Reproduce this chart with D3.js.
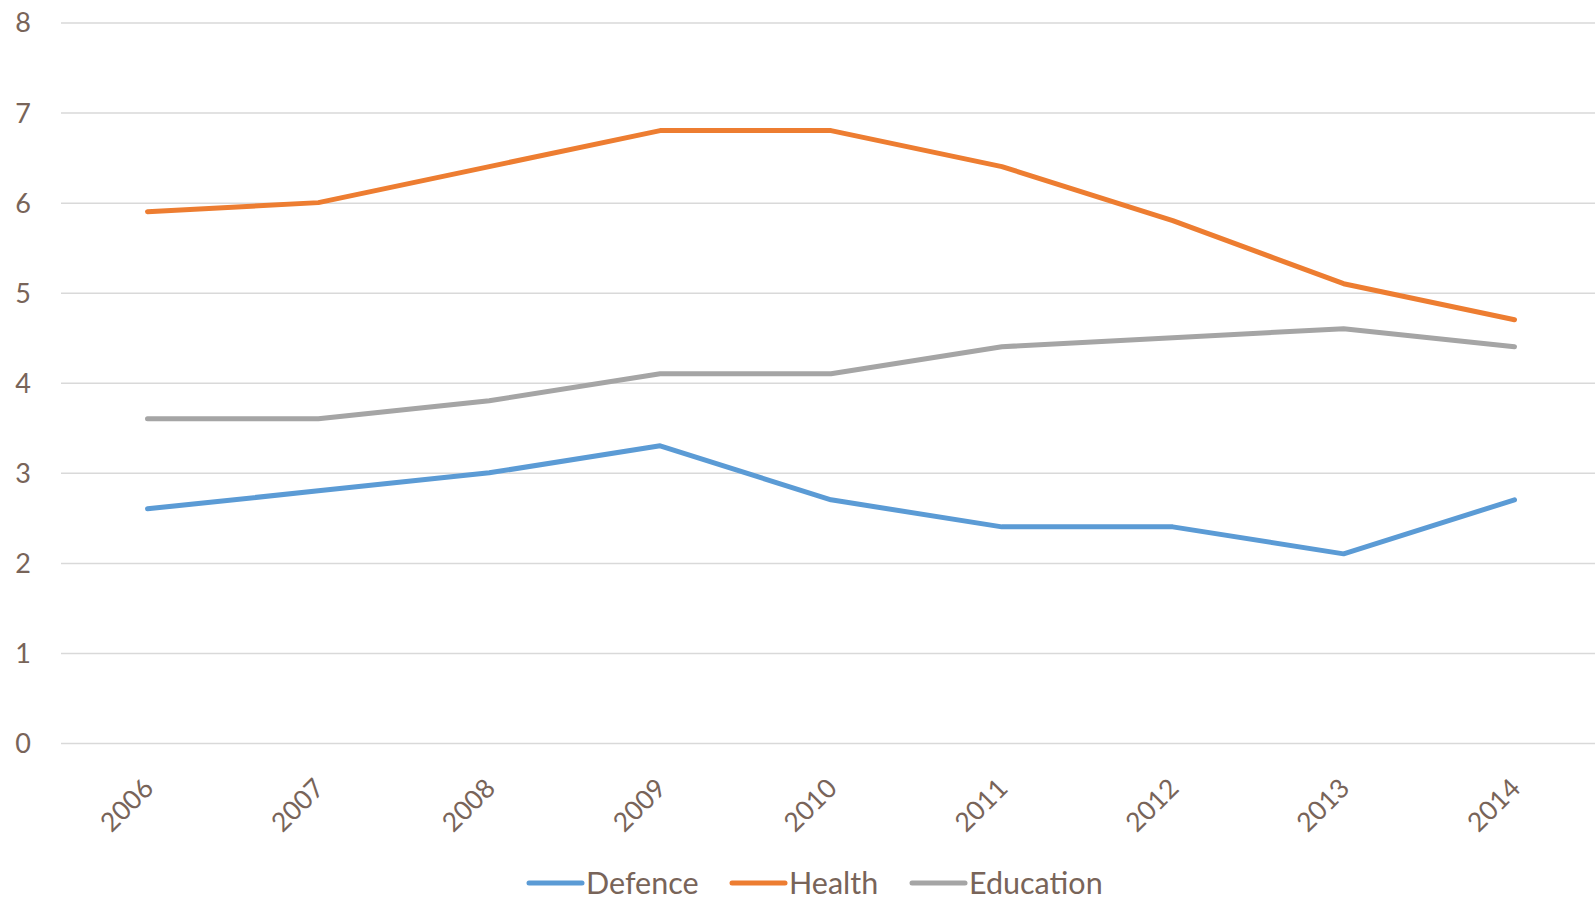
<!DOCTYPE html>
<html>
<head>
<meta charset="utf-8">
<script src="https://cdn.jsdelivr.net/npm/d3@7"></script>
<style>
  body { margin: 0; background: #fff; }
  svg text { font-family: Lato, "Open Sans", sans-serif; fill: #786459; }
</style>
</head>
<body>
<svg id="chart" width="1595" height="902"></svg>
<script>
const years = ["2006", "2007", "2008", "2009", "2010", "2011", "2012", "2013", "2014"]
const defence = [2.6, 2.8, 3.0, 3.3, 2.7, 2.4, 2.4, 2.1, 2.7]
const health = [5.9, 6.0, 6.4, 6.8, 6.8, 6.4, 5.8, 5.1, 4.7]
const education = [3.6, 3.6, 3.8, 4.1, 4.1, 4.4, 4.5, 4.6, 4.4]
const yTicks = [0, 1, 2, 3, 4, 5, 6, 7, 8]

const seriesNames = ["Defence", "Health", "Education"]
const seriesColors = ["#5b9bd5", "#ed7d31", "#a5a5a5"]
const seriesValues = [defence, health, education]

var svg = d3.select("#chart")

var plotLeft = 61, plotRight = 1595, plotTop = 22.5, plotBottom = 743

var x_scale = d3.scalePoint()
    .domain(years)
    .range([147.5, 1514.5])

var y_scale = d3.scaleLinear()
    .domain([0, 8])
    .range([plotBottom, plotTop])

// gridlines + y labels
var y_axis = d3.axisLeft(y_scale)
    .tickValues(yTicks)
    .tickSize(-(plotRight - plotLeft))
    .tickFormat(d => `${d}`)

var gy = svg.append("g")
    .attr("transform", `translate(${plotLeft},0)`)
    .call(y_axis)
gy.select(".domain").remove()
gy.selectAll(".tick line").attr("stroke", "#d9d9d9").attr("stroke-width", 1.5)
gy.selectAll(".tick text")
    .attr("x", -(plotLeft - 31))
    .attr("text-anchor", "end")
    .style("font-size", "27px")
    .attr("dy", "0.35em")

// x labels
var x_axis = d3.axisBottom(x_scale).tickSize(0)
var gx = svg.append("g")
    .attr("transform", `translate(0,${plotBottom})`)
    .call(x_axis)
gx.select(".domain").remove()
gx.selectAll(".tick text")
    .style("font-size", "26.5px")
    .attr("text-anchor", "end")
    .attr("dy", 0)
    .attr("y", 0)
    .attr("transform", "translate(7,47) rotate(-45)")

// lines
var line = d3.line()
    .x((d, idx) => x_scale(years[idx]))
    .y(d => y_scale(d))

seriesValues.forEach((vals, i) => {
    svg.append("path")
        .attr("d", line(vals))
        .attr("fill", "none")
        .attr("stroke", seriesColors[i])
        .attr("stroke-width", 5)
        .attr("stroke-linecap", "round")
        .attr("stroke-linejoin", "round")
})

// legend
var legendY = 883
var legendX = [529, 732, 912]
seriesNames.forEach((name, i) => {
    var lg = svg.append("g").attr("transform", `translate(${legendX[i]},${legendY})`)
    lg.append("line")
        .attr("x1", 0).attr("x2", 53)
        .attr("y1", 0).attr("y2", 0)
        .attr("stroke", seriesColors[i])
        .attr("stroke-width", 5)
        .attr("stroke-linecap", "round")
    lg.append("text")
        .attr("x", 57)
        .attr("y", 0)
        .attr("dy", "0.36em")
        .style("font-size", "30.5px")
        .text(name)
})
</script>
</body>
</html>
